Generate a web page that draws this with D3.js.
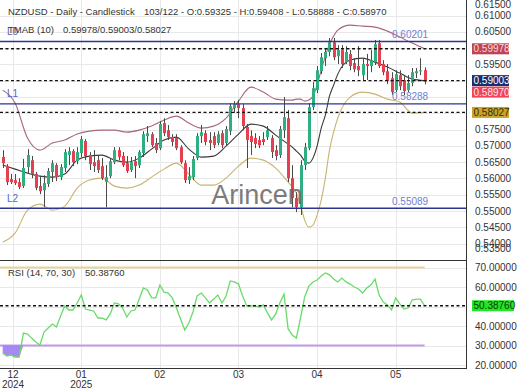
<!DOCTYPE html>
<html><head><meta charset="utf-8">
<script src="https://cdn.jsdelivr.net/npm/d3@7"></script>
<style>
body{margin:0;background:#fff}
svg{display:block}
text{font-family:"Liberation Sans",Arial,sans-serif}
</style>
</head><body>
<svg id="c" width="520" height="390"></svg>
<script>
// ---------- data ----------
const openP = [.5666,.5638,.5598,.5595,.5589,.5577,.5635,.5656,.5614,.5577,
 .5564,.5583,.5620,.5641,.5604,.5632,.5672,.5684,.5653,.5678,
 .5715,.5672,.5650,.5656,.5638,.5589,.5607,.5650,.5687,.5669,
 .5647,.5626,.5653,.5641,.5678,.5730,.5736,.5709,.5693,.5770,
 .5748,.5727,.5724,.5696,.5647,.5595,.5604,.5663,.5730,.5739,
 .5718,.5730,.5709,.5739,.5709,.5745,.5816,.5828,.5816,.5758,
 .5730,.5724,.5718,.5721,.5727,.5724,.5687,.5672,.5748,.5785,
 .5601,.5540,.5512,.5641,.5693,.5819,.5871,.5929,.5969,.5988,
 .6018,.5975,.5994,.5957,.5982,.5954,.5945,.5917,.5951,.5945,
 .5957,.6015,.5951,.5929,.5908,.5871,.5917,.5902,.5871,.5893,
 .5923,.5929,.59325];
const highP = [.5687,.5644,.5614,.5614,.5601,.5660,.5690,.5669,.5620,.5607,
 .5610,.5632,.5656,.5647,.5644,.5690,.5696,.5690,.5696,.5730,
 .5721,.5681,.5687,.5672,.5663,.5641,.5663,.5696,.5696,.5681,
 .5669,.5666,.5669,.5687,.5745,.5761,.5742,.5724,.5776,.5785,
 .5764,.5736,.5736,.5702,.5656,.5635,.5669,.5739,.5764,.5748,
 .5742,.5742,.5745,.5748,.5761,.5831,.5837,.5841,.5828,.5767,
 .5748,.5739,.5730,.5742,.5761,.5733,.5702,.5761,.5850,.5810,
 .5641,.5558,.5656,.5709,.5831,.5896,.5945,.5985,.6000,.6031,
 .6031,.6009,.6009,.6006,.5994,.5969,.6006,.5969,.5982,.5994,
 .6025,.6025,.5963,.5951,.5926,.5932,.5932,.5914,.5917,.5939,
 .5939,.5969,.59408];
const lowP = [.5632,.5580,.5583,.5580,.5567,.5571,.5617,.5601,.5564,.5552,
 .5512,.5574,.5589,.5592,.5595,.5620,.5641,.5638,.5644,.5666,
 .5656,.5626,.5620,.5617,.5595,.5512,.5601,.5644,.5656,.5635,
 .5617,.5620,.5601,.5632,.5666,.5712,.5696,.5678,.5687,.5730,
 .5718,.5699,.5687,.5644,.5586,.5583,.5595,.5656,.5709,.5702,
 .5687,.5693,.5702,.5693,.5702,.5733,.5801,.5785,.5748,.5632,
 .5672,.5693,.5693,.5702,.5718,.5663,.5656,.5663,.5724,.5589,
 .5512,.5497,.5488,.5626,.5687,.5810,.5862,.5920,.5945,.5975,
 .5963,.5951,.5939,.5951,.5932,.5926,.5914,.5902,.5902,.5926,
 .5948,.5939,.5917,.5890,.5856,.5865,.5871,.5856,.5865,.5883,
 .5908,.5917,.58888];
const closeP = [.5647,.5589,.5589,.5586,.5574,.5632,.5672,.5614,.5571,.5561,
 .5586,.5623,.5647,.5604,.5635,.5681,.5684,.5650,.5681,.5721,
 .5669,.5644,.5638,.5626,.5601,.5604,.5653,.5687,.5666,.5641,
 .5623,.5650,.5638,.5681,.5736,.5739,.5702,.5687,.5767,.5739,
 .5727,.5712,.5693,.5650,.5595,.5607,.5660,.5730,.5742,.5712,
 .5709,.5702,.5736,.5702,.5752,.5822,.5828,.5816,.5761,.5718,
 .5712,.5706,.5702,.5712,.5748,.5681,.5669,.5752,.5788,.5601,
 .5540,.5512,.5641,.5696,.5819,.5877,.5932,.5972,.5988,.6018,
 .5972,.5994,.5951,.5988,.5945,.5935,.5932,.5951,.5945,.5963,
 .6012,.5945,.5926,.5899,.5865,.5920,.5883,.5868,.5893,.5926,
 .5929,.5932,.58970];
const rsiVals = [26.2,24.6,25.1,24.1,24.1,36.4,35.9,33.8,31.8,30.3,
 36.9,39.0,41.0,39.5,45.1,50.3,48.2,48.2,51.8,55.9,
 48.7,48.2,47.7,44.1,44.1,43.1,46.2,51.8,51.3,49.2,
 44.6,47.7,48.2,53.8,59.5,58.5,54.4,54.4,61.0,57.4,
 56.9,54.4,49.2,43.6,37.9,41.5,47.2,55.4,56.9,54.4,
 51.8,53.8,55.9,51.8,55.4,63.1,62.6,61.5,55.4,50.3,
 50.3,50.3,49.7,50.8,46.7,43.1,46.2,51.8,56.4,38.5,
 35.4,33.8,44.1,54.9,60.5,62.6,63.6,65.6,67.2,66.2,
 64.1,62.6,64.6,62.6,61.5,60.0,59.0,56.9,59.5,61.0,
 64.1,55.9,52.3,50.8,48.2,54.4,51.3,48.7,49.2,53.3,
 53.8,53.8,50.3876];
const bandIdx = [0,3,6,9,12,15,18,21,24,27,30,33,36,39,42,45,48,51,54,57,60,63,66,69,70,71,72,73,74,75,76,77,78,79,80,81,84,87,90,93,96,99,102];
const upperBand = [.58711,.58313,.57239,.56871,.57086,.57178,.57362,.57454,.57484,.57484,.57423,.57484,.57607,.57791,.57914,.57699,.57546,.57607,.57852,.58374,.58803,.58650,.58435,.58405,.58405,.58435,.58435,.58374,.58405,.58527,.58865,.59325,.59754,.60122,.60368,.60552,.60705,.60674,.60644,.60521,.60337,.60153,.59978];
const midBand = [.56411,.56288,.56165,.56073,.56043,.56135,.56564,.56687,.56717,.56564,.56503,.56625,.56901,.57178,.57270,.56901,.56656,.56687,.56993,.57362,.57668,.57607,.57331,.57055,.56963,.56840,.56717,.56533,.56472,.56625,.56993,.57546,.57944,.58527,.58865,.59202,.59632,.59693,.59570,.59417,.59233,.59048,.59003];
const lowerBand = [.54049,.54325,.55031,.55214,.55031,.55153,.55705,.55951,.56012,.55766,.55705,.55797,.56043,.56288,.56472,.56135,.55797,.55797,.56012,.56380,.56625,.56564,.56319,.55889,.55736,.55552,.55184,.54724,.54509,.54570,.54877,.55337,.56012,.56871,.57423,.57852,.58497,.58650,.58589,.58435,.58343,.58006,.58027];
const priceTicks = [0.535,0.54,0.545,0.55,0.555,0.56,0.565,0.57,0.575,0.58,0.585,0.59,0.595,0.60,0.605,0.61,0.615];
const rsiTicks = [20,30,40,50,60,70];
const monthIdx = [2.5,19,38,57,76,95];
const monthLabels = ["12","01","02","03","04","05"];
const yearLabels = ["2024","2025","","","",""];
const levelNames = ["L0","L1","L2"];
const levelValues = [0.60201,0.58288,0.55089];
const tmabValues = [0.59978,0.59003,0.58027];
const rsiLast = 50.38760;
const symbol = "NZDUSD - Daily - Candlestick";
const barInfo = "103/122";

// ---------- layout ----------
const svg = d3.select("#c");
const W = 466, mainBot = 260, rsiBot = 368;
const fmt = d3.format(".5f");
const x = d3.scaleLinear().domain([-0.65, 112]).range([0, W]);
const y = d3.scaleLinear().domain([0.535, 0.615]).range([260, -0.8]);
const yr = d3.scaleLinear().domain([20, 70]).range([365, 267.5]);

const defs = svg.append("defs");
defs.append("clipPath").attr("id","cm").append("rect").attr("x",0).attr("y",0).attr("width",W).attr("height",mainBot);
defs.append("clipPath").attr("id","cr").append("rect").attr("x",0).attr("y",mainBot).attr("width",W).attr("height",rsiBot-mainBot);

// grid
const grid = svg.append("g").attr("stroke","#e8e8e8").attr("stroke-width",1).attr("shape-rendering","crispEdges");
grid.selectAll(".hg").data(priceTicks).join("line")
  .attr("x1",0).attr("x2",W).attr("y1",d=>Math.round(y(d))+0.5).attr("y2",d=>Math.round(y(d))+0.5);
grid.selectAll(".rg").data(rsiTicks).join("line")
  .attr("x1",0).attr("x2",W).attr("y1",d=>Math.round(yr(d))+0.5).attr("y2",d=>Math.round(yr(d))+0.5);
grid.selectAll(".vg").data(monthIdx).join("line")
  .attr("x1",d=>Math.round(x(d))+0.5).attr("x2",d=>Math.round(x(d))+0.5).attr("y1",0).attr("y2",rsiBot);

const main = svg.append("g").attr("clip-path","url(#cm)");

// bands
const bandData = (arr)=>bandIdx.map((d,k)=>({i:d,v:arr[k]}));
const bl = d3.line().x(d=>x(d.i)).y(d=>y(d.v)).curve(d3.curveMonotoneX);
main.append("path").attr("d",bl(bandData(upperBand))).attr("fill","none").attr("stroke","#a8677f").attr("stroke-width",1.1);
main.append("path").attr("d",bl(bandData(midBand))).attr("fill","none").attr("stroke","#3a3a3a").attr("stroke-width",1.1);
main.append("path").attr("d",bl(bandData(lowerBand))).attr("fill","none").attr("stroke","#c8b36e").attr("stroke-width",1.1);

// candles
const idx = d3.range(closeP.length);
const up = "#2fae80", dn = "#e5404f";
const cg = main.append("g");
cg.selectAll(".w").data(idx).join("line")
  .attr("x1",i=>Math.round(x(i))+0.5).attr("x2",i=>Math.round(x(i))+0.5)
  .attr("y1",i=>y(highP[i])).attr("y2",i=>y(lowP[i]))
  .attr("stroke","#4a4a4a").attr("stroke-width",1);
cg.selectAll(".b").data(idx).join("rect")
  .attr("x",i=>Math.round(x(i))-1).attr("width",3)
  .attr("y",i=>y(Math.max(openP[i],closeP[i])))
  .attr("height",i=>Math.max(1,Math.abs(y(openP[i])-y(closeP[i]))))
  .attr("fill",i=>closeP[i]>=openP[i]?up:dn);

// level lines
const lv = main.append("g");
levelValues.forEach((v,k)=>{
  lv.append("line").attr("x1",0).attr("x2",W).attr("y1",y(v)).attr("y2",y(v)).attr("stroke","#2f3590").attr("stroke-width",1.4);
  lv.append("text").attr("x",7).attr("y",y(v)-10).attr("dy","0.35em").attr("font-size",10).attr("fill","#5566c4").text(levelNames[k]);
  lv.append("text").attr("x",392).attr("y",y(v)-7).attr("dy","0.35em").attr("font-size",10).attr("fill","#6d80d2").text(fmt(v));
});
// TMAB dashed
tmabValues.forEach(v=>{
  main.append("line").attr("x1",0).attr("x2",W).attr("y1",y(v)).attr("y2",y(v)).attr("stroke","#111").attr("stroke-width",1.4).attr("stroke-dasharray","3,2.5");
});

// watermark
svg.append("text").attr("x",257).attr("y",204).attr("text-anchor","middle").attr("font-size",27).attr("fill","#666").attr("opacity",0.85).text("Arincen");

// header text
const hdr = svg.append("g").attr("font-size",9.5).attr("fill","#333");
hdr.append("text").attr("x",8).attr("y",12).attr("dy","0.35em").text(symbol);
const L = closeP.length-1;
hdr.append("text").attr("x",144).attr("y",12).attr("dy","0.35em")
  .text(`${barInfo} - O:${fmt(openP[L])} - H:${fmt(highP[L])} - L:${fmt(lowP[L])} - C:${fmt(closeP[L])}`);
hdr.append("text").attr("x",8).attr("y",30).attr("dy","0.35em").text("TMAB (10)");
hdr.append("text").attr("x",63).attr("y",30).attr("dy","0.35em").text(tmabValues.map(fmt).join("/"));

// RSI panel
const rg = svg.append("g").attr("clip-path","url(#cr)");
rg.append("line").attr("x1",0).attr("x2",x(L)).attr("y1",yr(70)).attr("y2",yr(70)).attr("stroke","#e6d49c").attr("stroke-width",2);
rg.append("line").attr("x1",0).attr("x2",x(L)).attr("y1",yr(30)).attr("y2",yr(30)).attr("stroke","#c19be8").attr("stroke-width",2);
const area = d3.area().x(i=>x(i)).y0(yr(30)).y1(i=>yr(Math.min(30,rsiVals[i])));
rg.append("path").attr("d",area(idx)).attr("fill","#9c7cf0").attr("opacity",0.9);
rg.append("path").attr("d",d3.line().x(i=>x(i)).y(i=>yr(rsiVals[i]))(idx)).attr("fill","none").attr("stroke","#6ada6a").attr("stroke-width",1.3);
rg.append("line").attr("x1",0).attr("x2",W).attr("y1",yr(rsiLast)).attr("y2",yr(rsiLast)).attr("stroke","#111").attr("stroke-width",1.4).attr("stroke-dasharray","3,2.5");
svg.append("text").attr("x",8).attr("y",273).attr("dy","0.35em").attr("font-size",9.5).attr("fill","#333").text("RSI (14, 70, 30)");
svg.append("text").attr("x",85).attr("y",273).attr("dy","0.35em").attr("font-size",9.5).attr("fill","#333").text(fmt(rsiLast));

// frame
const fr = svg.append("g").attr("stroke","#333").attr("stroke-width",1).attr("shape-rendering","crispEdges");
fr.append("line").attr("x1",0).attr("x2",W).attr("y1",mainBot+0.5).attr("y2",mainBot+0.5);
fr.append("line").attr("x1",0).attr("x2",W).attr("y1",rsiBot+0.5).attr("y2",rsiBot+0.5);
fr.append("line").attr("x1",W+0.5).attr("x2",W+0.5).attr("y1",0).attr("y2",rsiBot+0.5);

// value boxes on right axis
const boxes = [
  {v:tmabValues[0], bg:"#bd4452", fg:"#ffd6dc"},
  {v:tmabValues[1], bg:"#1d2c6c", fg:"#ffffff"},
  {v:closeP[L], bg:"#f0435a", fg:"#ffe3e8"},
  {v:tmabValues[2], bg:"#c9a32a", fg:"#3d2c00"}
].map(b=>({...b, cy:y(b.v)})).sort((a,b)=>a.cy-b.cy);
for(let k=1;k<boxes.length;k++){ if(boxes[k].cy-boxes[k-1].cy<11.5) boxes[k].cy=boxes[k-1].cy+11.5; }

// price axis labels
const ax = svg.append("g").attr("font-size",10).attr("fill","#333");
priceTicks.forEach(t=>{
  const cy = Math.max(4.5, Math.min(248, y(t)));
  if(boxes.some(b=>Math.abs(b.cy-cy)<9)) return;
  ax.append("text").attr("x",475).attr("y",cy).attr("dy","0.35em").text(fmt(t));
});
boxes.forEach(b=>{
  svg.append("rect").attr("x",472).attr("y",b.cy-5.5).attr("width",37).attr("height",11).attr("fill",b.bg);
  svg.append("text").attr("x",473.5).attr("y",b.cy).attr("dy","0.35em").attr("font-size",10).attr("fill",b.fg).text(fmt(b.v));
});
// RSI axis labels
rsiTicks.forEach(t=>{
  if(Math.abs(yr(t)-yr(rsiLast))<9) return;
  ax.append("text").attr("x",475).attr("y",yr(t)).attr("dy","0.35em").text(fmt(t));
});
svg.append("rect").attr("x",472).attr("y",yr(rsiLast)-5.5).attr("width",42).attr("height",11).attr("fill","#22e622");
svg.append("text").attr("x",473.5).attr("y",yr(rsiLast)).attr("dy","0.35em").attr("font-size",10).attr("fill","#0b3b0b").text(fmt(rsiLast));

// month axis
const mx = svg.append("g").attr("font-size",10).attr("fill","#333").attr("text-anchor","middle");
monthIdx.forEach((d,k)=>{
  mx.append("text").attr("x",x(d)).attr("y",374).attr("dy","0.35em").text(monthLabels[k]);
  if(yearLabels[k]) mx.append("text").attr("x",x(d)).attr("y",384.5).attr("dy","0.35em").text(yearLabels[k]);
});
</script>
</body></html>
